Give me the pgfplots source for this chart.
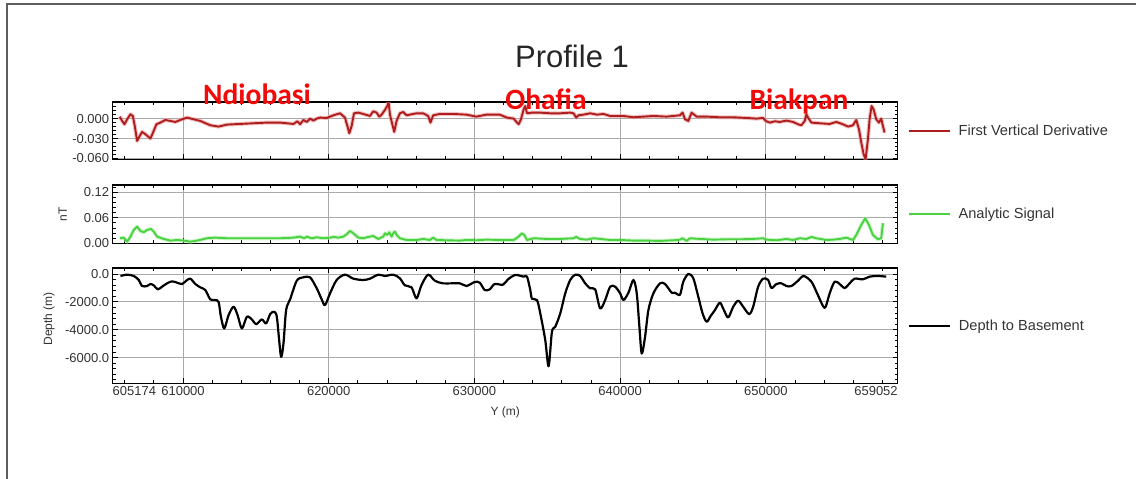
\documentclass[border=0pt]{standalone}
\usepackage{pgfplots}
\pgfplotsset{compat=1.18}
\usepackage{pgfplotstable}
\usepackage{fontspec}
\setmainfont{Liberation Sans}
\newfontfamily\sitefont{Carlito}

\definecolor{fvdred}{RGB}{175,30,30}
\definecolor{fvdglow}{RGB}{235,150,150}
\definecolor{asgreen}{RGB}{75,210,65}
\definecolor{asglow}{RGB}{175,238,170}
\definecolor{gridgray}{RGB}{170,170,170}
\definecolor{framegray}{RGB}{95,95,95}
\definecolor{sitered}{RGB}{240,10,10}

% First vertical derivative (nT/m) along the profile
\pgfplotstableread{
y fvd
605662 0.003
605822 -0.0035
605982 -0.0085
606165 -0.001
606393 0.0065
606553 0.004
606690 -0.011
606849 -0.0335
607032 -0.026
607192 -0.020
607420 -0.0235
607763 -0.030
607991 -0.0185
608174 -0.0085
608448 -0.006
608790 -0.002
609132 -0.0035
609475 -0.005
609817 -0.002
610274 0.0015
610731 -0.001
611187 -0.0035
611872 -0.010
612443 -0.012
613014 -0.009
613927 -0.008
614840 -0.007
615753 -0.006
616666 -0.006
617580 -0.008
617854 -0.004
618036 -0.0085
618264 -0.002
618493 -0.005
618721 0.000
618949 -0.003
619178 0.000
619406 0.0015
619863 0.001
620319 0.005
620776 0.008
621118 0.0015
621278 -0.011
621415 -0.022
621575 -0.011
621735 0.008
622031 0.009
622374 0.007
622830 0.004
623059 0.011
623287 0.009
623470 0.003
623630 0.006
623858 0.013
624018 0.019
624109 0.025
624200 0.0065
624337 -0.006
624497 -0.020
624657 -0.0035
624885 0.008
625114 0.010
625342 0.005
625684 0.0065
626027 0.008
626483 0.008
626826 0.004
626986 -0.006
627168 0.005
627625 0.007
628538 0.007
629451 0.006
630136 0.003
630821 0.006
631734 0.006
632238 0.0015
632694 0.000
632923 -0.006
633037 -0.0085
633197 -0.001
633379 0.014
633493 0.019
633608 0.008
633950 0.009
634521 0.009
635206 0.008
635891 0.008
636575 0.009
636804 0.008
636986 0.0015
637146 0.005
637489 0.006
637945 0.008
638402 0.006
638858 0.007
639315 0.004
639772 0.004
640228 0.004
640913 0.002
641598 0.003
642283 0.004
643196 0.003
644109 0.005
644292 0.009
644452 -0.001
644680 -0.0035
644908 0.009
645251 0.003
645936 0.003
646849 0.002
647762 0.002
648675 0.001
649360 0.000
649817 0.001
649999 -0.0035
650274 -0.006
650616 -0.004
650958 -0.005
651415 -0.003
651871 -0.005
652214 -0.0085
652442 -0.010
652671 -0.0035
652785 0.0065
652899 0.0015
653127 -0.006
653699 -0.007
654383 -0.008
654840 -0.005
655296 -0.0085
655639 -0.012
655981 -0.010
656209 -0.002
656392 -0.016
656552 -0.036
656712 -0.0535
656849 -0.061
657008 -0.031
657123 -0.001
657259 0.019
657396 0.014
657579 -0.001
657761 -0.006
657921 0.000
658036 -0.011
658150 -0.021
}\fvdtable

% Analytic signal (nT/m)
\pgfplotstableread{
y as
605662 0.0118
605936 0.0133
606165 0.0039
606393 0.0157
606621 0.0314
606849 0.0392
607078 0.0290
607306 0.0259
607534 0.0314
607808 0.0337
607991 0.0274
608219 0.0157
608676 0.0102
609132 0.0063
609589 0.0078
610046 0.0063
610502 0.0039
610959 0.0063
611644 0.0118
612215 0.0133
613014 0.0118
613927 0.0118
614840 0.0118
615753 0.0118
616666 0.0118
617580 0.0133
618036 0.0157
618310 0.0118
618493 0.0157
618835 0.0118
619178 0.0141
619634 0.0118
620091 0.0133
620319 0.0149
620662 0.0133
621004 0.0157
621232 0.0212
621461 0.0290
621689 0.0235
622031 0.0133
622374 0.0118
622716 0.0149
623059 0.0172
623401 0.0102
623744 0.0157
623858 0.0235
624018 0.0196
624155 0.0259
624314 0.0157
624429 0.0235
624543 0.0274
624702 0.0180
624885 0.0118
625342 0.0078
626027 0.0078
626483 0.0102
626940 0.0078
627168 0.0133
627396 0.0078
628081 0.0071
628995 0.0063
629451 0.0078
630136 0.0071
630821 0.0086
631734 0.0078
632238 0.0078
632694 0.0078
633037 0.0157
633265 0.0235
633425 0.0196
633608 0.0078
634064 0.0118
634977 0.0102
635891 0.0102
636804 0.0118
636986 0.0149
637260 0.0102
637717 0.0086
638174 0.0118
638630 0.0102
639315 0.0078
640000 0.0078
640913 0.0063
641826 0.0063
642740 0.0055
643653 0.0071
644109 0.0086
644292 0.0118
644566 0.0055
644794 0.0118
645479 0.0102
646392 0.0086
647306 0.0094
648219 0.0094
649132 0.0102
649817 0.0118
650045 0.0086
650730 0.0071
651415 0.0102
651871 0.0078
652328 0.0118
652785 0.0102
653127 0.0149
653470 0.0118
654155 0.0078
654611 0.0086
655068 0.0102
655524 0.0133
655981 0.0078
656209 0.0196
656552 0.0431
656826 0.0588
657077 0.0431
657351 0.0196
657693 0.0094
657921 0.0118
658036 0.0470
}\astable

% Depth to magnetic basement (m)
\pgfplotstableread{
y depth
605708 -144
606165 -48
606621 -144
606964 -432
607192 -864
607534 -864
607763 -720
607991 -816
608265 -1104
608562 -912
608904 -672
609247 -528
609589 -624
609932 -720
610228 -480
610502 -336
610845 -720
611187 -960
611530 -1152
611872 -1824
612215 -1872
612443 -2016
612603 -3072
612831 -3912
613128 -2952
613470 -2352
613744 -2952
614041 -3912
614383 -3072
614726 -3264
615023 -3600
615411 -3264
615708 -3552
615981 -2880
616255 -2712
616438 -3072
616598 -4752
616735 -5952
616895 -4992
617077 -2592
617351 -1824
617808 -480
618264 -240
618721 -240
619178 -1032
619520 -1824
619748 -2232
620091 -1392
620547 -432
621118 -48
621689 -336
622374 -432
622830 -336
623401 -48
623858 -144
624429 -48
624885 -312
625228 -816
625684 -960
626027 -1752
626369 -792
626826 -48
627282 -480
627853 -672
628995 -672
629451 -864
630022 -576
630364 -624
630707 -1152
631049 -1104
631392 -720
631962 -768
632305 -384
632809 -72
633379 -192
633608 -192
633836 -1152
633950 -1776
634292 -1872
634521 -2832
634863 -4752
635092 -6624
635320 -4152
635548 -3792
635891 -2832
636233 -1392
636575 -432
636918 -48
637260 -144
637603 -672
637945 -1032
638288 -1104
638630 -2472
638973 -1872
639315 -912
639658 -912
640000 -1392
640228 -1872
640571 -1344
640913 -432
641142 -1392
641324 -3792
641484 -5712
641712 -4512
641941 -2592
642283 -1392
642740 -672
643082 -720
643539 -1344
643767 -1344
644109 -1488
644338 -552
644680 0
645023 -312
645365 -1632
645662 -2832
645936 -3432
646210 -3024
646507 -2592
646849 -2064
647123 -2592
647420 -3120
647762 -2352
648105 -1920
648447 -2352
648858 -2880
649132 -2352
649474 -912
649817 -336
650159 -432
650388 -1008
650730 -720
651073 -672
651415 -864
651757 -864
652214 -480
652602 -144
653127 -552
653470 -1272
653926 -2304
654109 -2352
654383 -1392
654725 -552
655068 -720
655410 -1008
655753 -672
656095 -336
656666 -384
657123 -192
657693 -144
658264 -192
}\depthtable

\pgfplotsset{
  profile/.style={
    scale only axis,
    anchor=south west,
    width=785pt,
    xmin=605174, xmax=659052,
    scaled x ticks=false, scaled y ticks=false,
    xtick={610000,620000,630000,640000,650000},
    minor xtick={606000,608000,612000,614000,616000,618000,622000,624000,626000,628000,632000,634000,636000,638000,642000,644000,646000,648000,652000,654000,656000,658000},
    xticklabels={},
    grid=major,
    major grid style={gridgray, line width=0.9pt},
    axis line style={black, line width=1.1pt},
    tick style={black, line width=0.8pt},
    major tick length=5pt,
    minor tick length=3pt,
    tick label style={font=\fontsize{13}{15}\selectfont, text=black!80},
    ylabel style={font=\fontsize{12}{14}\selectfont, text=black!80},
    legend style={at={(1.0125,0.5)}, anchor=west, draw=none, fill=none,
      font=\fontsize{14.6}{16}\selectfont, text=black!80,
      inner xsep=0pt, inner ysep=0pt, column sep=6pt},
    legend cell align=left,
    legend image code/.code={\draw[##1] (0pt,0pt) -- (41pt,0pt);},
  },
}

\begin{document}
\begin{tikzpicture}
\path[use as bounding box] (0pt,0pt) rectangle (1136pt,479pt);
\draw[framegray, line width=2pt] (7pt,0pt) -- (7pt,475pt) -- (1137pt,475pt);

\node[anchor=base, font=\fontsize{31}{36}\selectfont, text=black!85] at (572pt,411pt) {Profile 1};

% First vertical derivative
\begin{axis}[profile,
  at={(112.7pt,319.5pt)}, height=57.5pt,
  ymin=-0.0615, ymax=0.025,
  ytick={-0.06,-0.03,0}, yticklabels={-0.060,-0.030,0.000},
  minor ytick={-0.054,-0.048,-0.042,-0.036,-0.024,-0.018,-0.012,-0.006,0.006,0.012,0.018,0.024},
]
\addplot[fvdglow, line width=4pt, opacity=0.6, forget plot, line join=round] table[x=y, y=fvd] {\fvdtable};
\addplot[fvdred, line width=1.9pt, line join=round] table[x=y, y=fvd] {\fvdtable};
\addlegendentry{First Vertical Derivative}
\end{axis}

% Analytic signal
\begin{axis}[profile,
  at={(112.7pt,235.7pt)}, height=58.3pt,
  ymin=0, ymax=0.137,
  ytick={0,0.06,0.12}, yticklabels={0.00,0.06,0.12},
  minor ytick={0.012,0.024,0.036,0.048,0.072,0.084,0.096,0.108,0.132},
  ylabel={nT},
  ylabel style={at={(axis description cs:-0.0637,0.5)}, anchor=center},
]
\addplot[asglow, line width=4pt, opacity=0.6, forget plot, line join=round] table[x=y, y=as] {\astable};
\addplot[asgreen, line width=1.9pt, line join=round] table[x=y, y=as] {\astable};
\addlegendentry{Analytic Signal}
\end{axis}

% Depth to basement
\begin{axis}[profile,
  at={(112.7pt,95.7pt)}, height=115.3pt,
  ymin=-7850, ymax=430,
  ytick={-6000,-4000,-2000,0}, yticklabels={-6000.0,-4000.0,-2000.0,0.0},
  minor ytick={-7600,-7200,-6800,-6400,-5600,-5200,-4800,-4400,-3600,-3200,-2800,-2400,-1600,-1200,-800,-400,400},
  xticklabels={610000,620000,630000,640000,650000},
  extra x ticks={605174,659052},
  extra x tick labels={\makebox[0pt][l]{605174},\makebox[0pt][r]{659052}},
  extra x tick style={grid=none, major tick length=0pt},
  xlabel={Y (m)},
  xlabel style={at={(axis description cs:0.5,0)}, anchor=center, yshift=-29pt,
    font=\fontsize{12}{14}\selectfont, text=black!80},
  ylabel={Depth (m)},
  ylabel style={at={(axis description cs:-0.0811,0.56)}, anchor=center},
]
\addplot[black, line width=2.2pt, smooth, tension=0.5, line join=round] table[x=y, y=depth] {\depthtable};
\addlegendentry{Depth to Basement}
\end{axis}

% Locality names along the profile
\node[anchor=base, font=\sitefont\bfseries\fontsize{29.5}{33}\selectfont, text=sitered] at (257pt,374pt) {Ndiobasi};
\node[anchor=base, font=\sitefont\bfseries\fontsize{29.5}{33}\selectfont, text=sitered] at (546pt,369pt) {Ohafia};
\node[anchor=base, font=\sitefont\bfseries\fontsize{29.5}{33}\selectfont, text=sitered] at (799pt,369pt) {Biakpan};
\end{tikzpicture}
\end{document}
